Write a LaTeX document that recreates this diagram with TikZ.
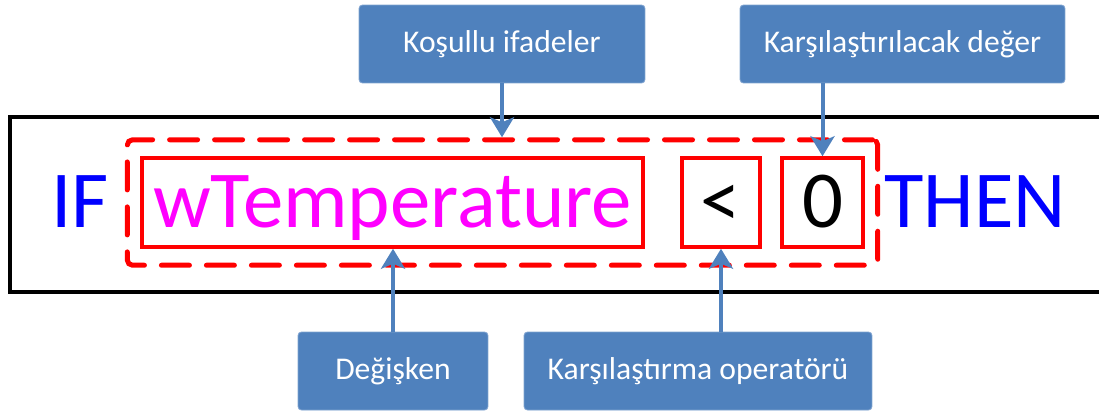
\documentclass[tikz,border=0pt]{standalone}
\usepackage{fontspec}
\setmainfont{Carlito}
\usetikzlibrary{arrows.meta,fit}

\definecolor{notefill}{HTML}{4F81BD}
\definecolor{noteedge}{HTML}{7FA3D0}
\definecolor{varpink}{RGB}{255,0,255}

\begin{document}
\begin{tikzpicture}[x=0.02cm,y=-0.02cm,
	note/.style={fill=notefill, draw=noteedge, line width=0.5pt, rounded corners=2pt,
		text=white, font=\fontsize{18}{22}\selectfont, minimum height=1.56cm, inner sep=0pt},
	word/.style={font=\fontsize{46}{54}\selectfont, text height=1.38cm, text depth=0.4cm,
		inner xsep=0pt, inner ysep=0pt},
	part/.style={word, draw=red, line width=0.07cm},
	arr/.style={draw=notefill, line width=0.08cm,
		-{Stealth[width=0.48cm,length=0.4cm,inset=0.1cm]}}]
\clip (0,0) rectangle (1099,410);

% satir cercevesi
\draw[line width=0.09cm] (10,117) rectangle (1130,292);

% komut satiri
\node[word, text=blue] (if) at (80,202.5) {IF};
\node[part, text=varpink, minimum width=10.02cm] (var) at (392.5,202.5) {wTemperature};
\node[part, minimum width=1.56cm] (op) at (721,202.5) {<};
\node[part, minimum width=1.62cm] (val) at (822.5,202.5) {0};
\node[word, text=blue] (then) at (975,202.5) {THEN};
\node[fit=(var)(op)(val), draw=red, line width=0.1cm, line cap=round,
	dash pattern=on 0.56cm off 0.34cm, rounded corners=3pt,
	inner xsep=0.26cm, inner ysep=0.33cm] (cond) {};

% aciklamalar
\node[note, minimum width=5.72cm] (lblcond) at (502,44) {Koşullu ifadeler};
\node[note, minimum width=6.5cm] (lblval) at (902.5,44) {Karşılaştırılacak değer};
\node[note, minimum width=3.8cm] (lblvar) at (393,371) {Değişken};
\node[note, minimum width=6.96cm] (lblop) at (698,371) {Karşılaştırma operatörü};

\draw[arr] (lblcond.south) -- (lblcond.south |- cond.north);
\draw[arr] (lblval.south -| val.north) -- (val.north);
\draw[arr] (lblvar.north) -- (lblvar.north |- var.south);
\draw[arr] (lblop.north -| op.south) -- (op.south);
\end{tikzpicture}
\end{document}
